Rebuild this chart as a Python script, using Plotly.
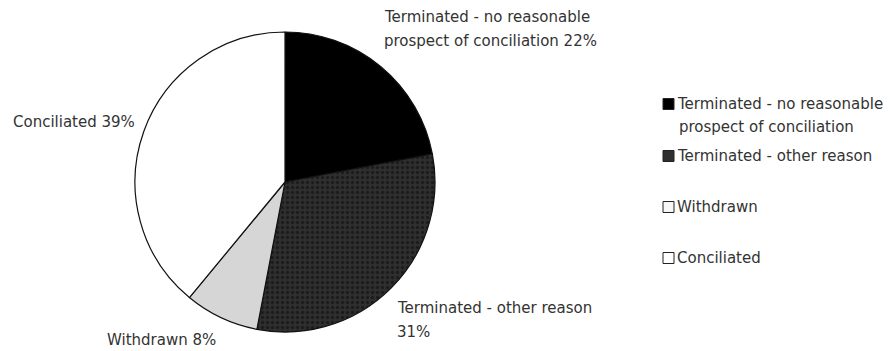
import textwrap
import plotly.graph_objects as go

# Outcome of complaints
labels = [
    "Terminated - no reasonable prospect of conciliation",
    "Terminated - other reason",
    "Withdrawn",
    "Conciliated",
]
values = [22, 31, 8, 39]

slice_colors = ["#000000", "#2f2f2f", "#d6d6d6", "#ffffff"]
swatch_colors = ["#000000", "#2f2f2f", "#f6f6f6", "#ffffff"]

W, H = 891, 351
FONT = "DejaVu Sans"
TEXT_COLOR = "#333333"
FS = 15


def px(x):
    return x / W


def py(y):
    return 1 - y / H


fig = go.Figure()

# pie occupies a 300 px square centred at (285, 182)
fig.add_trace(
    go.Pie(
        labels=labels,
        values=values,
        sort=False,
        direction="clockwise",
        rotation=0,
        textinfo="none",
        hoverinfo="label+percent",
        showlegend=False,
        marker=dict(
            colors=slice_colors,
            line=dict(color="#111111", width=1.2),
            pattern=dict(
                shape=["", ".", "", ""],
                fgcolor=["#000000", "#1c1c1c", "#d6d6d6", "#ffffff"],
                bgcolor=slice_colors,
                size=5,
                solidity=0.35,
            ),
        ),
        domain=dict(x=[px(135), px(435)], y=[py(332), py(32)]),
    )
)

# outside slice labels: left edge and first-line centre (pixels)
label_anchor = [(382, 17), (395, 308), (105, 340), (11, 122)]
line_step = 24

annotations = []
shapes = []
for i, (lab, v) in enumerate(zip(labels, values)):
    lines = textwrap.wrap(f"{lab} {v}%", width=28)
    x0, y0 = label_anchor[i]
    for k, ln in enumerate(lines):
        annotations.append(
            dict(
                text=ln, x=px(x0), y=py(y0 + k * line_step),
                xref="paper", yref="paper", xanchor="left", yanchor="middle",
                showarrow=False, font=dict(family=FONT, size=FS, color=TEXT_COLOR),
            )
        )

# legend: swatch top-left and text rows
legend_rows = [104, 156, 207, 258]
for i, lab in enumerate(labels):
    yc = legend_rows[i]
    shapes.append(
        dict(
            type="rect", xref="paper", yref="paper",
            x0=px(663), x1=px(674), y0=py(yc - 5.5), y1=py(yc + 5.5),
            fillcolor=swatch_colors[i], line=dict(color="#222222", width=1),
        )
    )
    for k, ln in enumerate(textwrap.wrap(lab, width=26)):
        annotations.append(
            dict(
                text=ln, x=px(675 + (2 if k else 0)), y=py(yc + k * 23),
                xref="paper", yref="paper", xanchor="left", yanchor="middle",
                showarrow=False, font=dict(family=FONT, size=FS, color=TEXT_COLOR),
            )
        )

fig.update_layout(
    width=W, height=H,
    margin=dict(l=0, r=0, t=0, b=0),
    paper_bgcolor="white", plot_bgcolor="white",
    annotations=annotations, shapes=shapes,
    showlegend=False,
)

fig.write_html("out.html")
